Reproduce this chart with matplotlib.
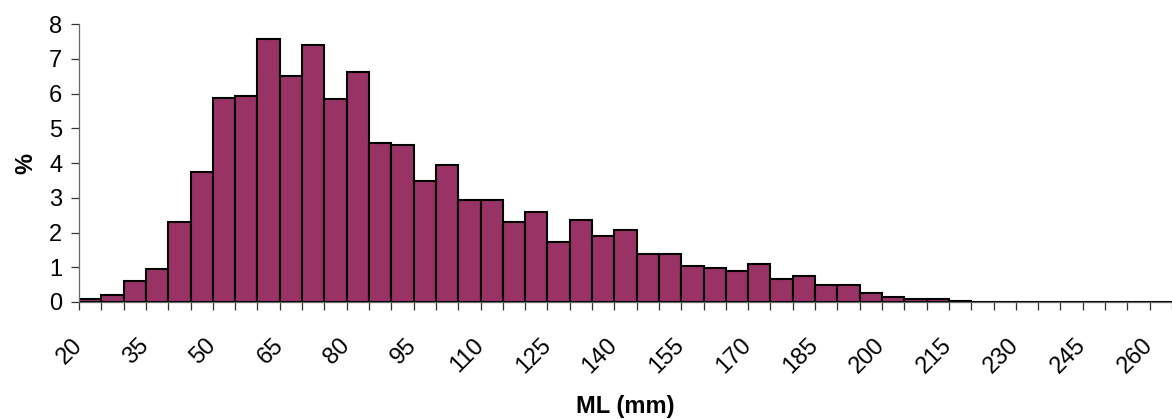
import matplotlib
matplotlib.use("Agg")
import matplotlib.pyplot as plt
import matplotlib.transforms as mtransforms
import numpy as np

# ---- data ----
bin_starts = list(range(20, 265, 5))  # 20 ... 260 (mm), 49 categories
percent = [0.10, 0.21, 0.60, 0.95, 2.31, 3.73, 5.88, 5.94, 7.58, 6.49,
           7.41, 5.83, 6.62, 4.57, 4.52, 3.48, 3.95, 2.93, 2.93, 2.30,
           2.59, 1.74, 2.36, 1.90, 2.07, 1.38, 1.38, 1.05, 0.99, 0.88,
           1.09, 0.65, 0.76, 0.48, 0.48, 0.25, 0.13, 0.09, 0.09, 0.03,
           0, 0, 0, 0, 0, 0, 0, 0, 0]
label_every = 3
y_ticks = [0, 1, 2, 3, 4, 5, 6, 7, 8]
x_label = "ML (mm)"
y_label = "%"

plt.rcParams['font.family'] = ['Liberation Sans', 'DejaVu Sans']
FS = 17

W, H = 1172, 419
fig = plt.figure(figsize=(W / 100, H / 100), dpi=100)
ax = fig.add_axes([79 / W, 117 / H, 1093 / W, 278 / H])

x = np.arange(len(bin_starts))
ax.bar(x, percent, width=1.0, color='#993366', edgecolor='black', linewidth=1.5, zorder=2)

ax.set_xlim(-0.5, len(bin_starts) - 0.5)
ax.set_ylim(0, 8)

for s in ['top', 'right']:
    ax.spines[s].set_visible(False)
for s in ['left', 'bottom']:
    ax.spines[s].set_color('#666666')
    ax.spines[s].set_linewidth(0.9)
ax.spines['bottom'].set_zorder(3)

ax.set_yticks(y_ticks)
ax.set_yticklabels([str(v) for v in y_ticks])
ax.tick_params(axis='y', length=6, width=0.9, color='#333333', pad=6, labelsize=FS)

# x: boundary ticks (minor) and category labels (major)
ax.set_xticks(np.arange(-0.5, len(bin_starts) + 0.5, 1.0), minor=True)
major = x[::label_every]
ax.set_xticks(major)
ax.set_xticklabels([str(bin_starts[i]) for i in major])
ax.tick_params(axis='x', which='minor', length=6, width=0.9, color='#333333')
ax.tick_params(axis='x', which='major', length=0, pad=23, labelsize=FS)
offset = mtransforms.ScaledTranslation(-19 / 100, 0, fig.dpi_scale_trans)
for lab in ax.get_xticklabels():
    lab.set_rotation(45)
    lab.set_rotation_mode('anchor')
    lab.set_ha('right')
    lab.set_va('top')
    lab.set_transform(lab.get_transform() + offset)

ax.set_xlabel(x_label, fontsize=FS, fontweight='bold')
ax.xaxis.set_label_coords(0.5, -0.334)
ax.set_ylabel(y_label, fontsize=FS, fontweight='bold')
ax.yaxis.set_label_coords(-0.0384, 0.5)

fig.savefig("out.png", dpi=100)
